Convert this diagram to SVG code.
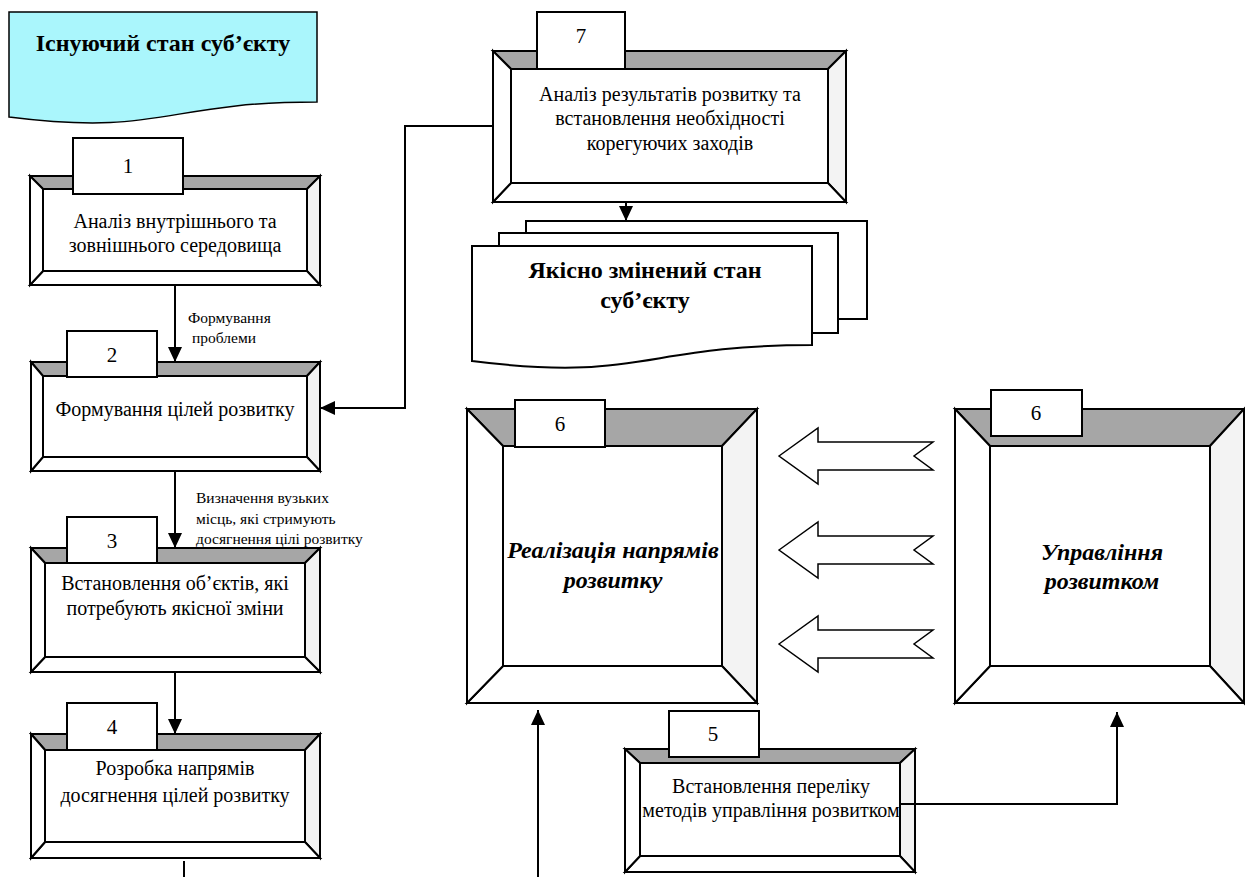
<svg xmlns="http://www.w3.org/2000/svg" width="1245" height="877" viewBox="0 0 1245 877">
<style>
text{font-family:"Liberation Serif","Times New Roman",serif;fill:#000;text-anchor:middle}
.b{stroke:#000;stroke-width:2;stroke-linejoin:miter}
.tp{fill:#a6a6a6}
.rt{fill:#f3f3f3}
.wh{fill:#fff}
.in{fill:#fff;stroke:#000;stroke-width:2}
.tab{fill:#fff;stroke:#000;stroke-width:2}
.t{font-size:20px}
.n{font-size:21px}
.s{font-size:15.5px;text-anchor:start}
.bd{font-size:24px;font-weight:bold}
.bi{font-size:24px;font-weight:bold;font-style:italic}
.c{fill:none;stroke:#000;stroke-width:2}
.ba{fill:#fff;stroke:#000;stroke-width:1.5}
</style>
<defs>
<marker id="ah" markerUnits="userSpaceOnUse" viewBox="0 0 15 14" markerWidth="15" markerHeight="14" refX="15" refY="7" orient="auto">
<path d="M0,0 L15,7 L0,14 z" fill="#000"/>
</marker>
</defs>

<g id="start">
<path d="M9,12 H317 V102 C163,102 163,136.5 9,117 Z" fill="#aaf6fc" stroke="#000" stroke-width="1.5"/>
<text class="bd" x="163" y="51">Існуючий стан суб’єкту</text>
</g>

<g id="node1">
<polygon class="b tp" points="30,176 320,176 307,189 43,189"/>
<polygon class="b rt" points="320,176 320,285 307,271 307,189"/>
<polygon class="b wh" points="30,285 320,285 307,271 43,271"/>
<polygon class="b wh" points="30,176 43,189 43,271 30,285"/>
<rect class="in" x="43" y="189" width="264" height="82"/>
<rect class="tab" x="73" y="138" width="110" height="56"/>
<text class="n" x="128" y="173">1</text>
<text class="t" x="175" y="228">Аналіз внутрішнього та</text>
<text class="t" x="175" y="252">зовнішнього середовища</text>
</g>

<g id="node2">
<polygon class="b tp" points="31,362 320,362 307,376 43,376"/>
<polygon class="b rt" points="320,362 320,471 307,457 307,376"/>
<polygon class="b wh" points="31,471 320,471 307,457 43,457"/>
<polygon class="b wh" points="31,362 43,376 43,457 31,471"/>
<rect class="in" x="43" y="376" width="264" height="81"/>
<rect class="tab" x="67" y="331" width="90" height="46"/>
<text class="n" x="112" y="362">2</text>
<text class="t" x="175" y="416">Формування цілей розвитку</text>
</g>

<g id="node3">
<polygon class="b tp" points="31,548 320,548 305,563 45,563"/>
<polygon class="b rt" points="320,548 320,672 305,657 305,563"/>
<polygon class="b wh" points="31,672 320,672 305,657 45,657"/>
<polygon class="b wh" points="31,548 45,563 45,657 31,672"/>
<rect class="in" x="45" y="563" width="260" height="94"/>
<rect class="tab" x="67" y="517" width="90" height="46"/>
<text class="n" x="112" y="548">3</text>
<text class="t" x="175" y="590">Встановлення об’єктів, які</text>
<text class="t" x="175" y="615">потребують якісної зміни</text>
</g>

<g id="node4">
<polygon class="b tp" points="31,734 320,734 305,750 45,750"/>
<polygon class="b rt" points="320,734 320,858 305,842 305,750"/>
<polygon class="b wh" points="31,858 320,858 305,842 45,842"/>
<polygon class="b wh" points="31,734 45,750 45,842 31,858"/>
<rect class="in" x="45" y="750" width="260" height="92"/>
<rect class="tab" x="67" y="703" width="90" height="47"/>
<text class="n" x="112" y="734">4</text>
<text class="t" x="175" y="775">Розробка напрямів</text>
<text class="t" x="175" y="802">досягнення цілей розвитку</text>
</g>

<g id="node7">
<polygon class="b tp" points="493,51 846,51 828,69 511,69"/>
<polygon class="b rt" points="846,51 846,202 828,183 828,69"/>
<polygon class="b wh" points="493,202 846,202 828,183 511,183"/>
<polygon class="b wh" points="493,51 511,69 511,183 493,202"/>
<rect class="in" x="511" y="69" width="317" height="114"/>
<rect class="tab" x="537" y="12" width="88" height="57"/>
<text class="n" x="581" y="43">7</text>
<text class="t" x="670" y="101">Аналіз результатів розвитку та</text>
<text class="t" x="670" y="125">встановлення необхідності</text>
<text class="t" x="670" y="150">корегуючих заходів</text>
</g>

<g id="result">
<path d="M526,221 H867 V319 H838 V233 H526 Z" fill="#fff" stroke="#000" stroke-width="2"/>
<path d="M499,233 H838 V333 H812 V246 H499 Z" fill="#fff" stroke="#000" stroke-width="2"/>
<path d="M472,246 H812 V345 C642,345 642,382.6 472,361 Z" fill="#fff" stroke="#000" stroke-width="2"/>
<text class="bd" x="645" y="278">Якісно змінений стан</text>
<text class="bd" x="645" y="308">суб’єкту</text>
</g>

<g id="node6a">
<polygon class="b tp" points="467,409 757,409 722,446 503,446"/>
<polygon class="b rt" points="757,409 757,703 722,666 722,446"/>
<polygon class="b wh" points="467,703 757,703 722,666 503,666"/>
<polygon class="b wh" points="467,409 503,446 503,666 467,703"/>
<rect class="in" x="503" y="446" width="219" height="220"/>
<rect class="tab" x="515" y="400" width="90" height="47"/>
<text class="n" x="560" y="431">6</text>
<text class="bi" x="613" y="558">Реалізація напрямів</text>
<text class="bi" x="613" y="588">розвитку</text>
</g>

<g id="node6b">
<polygon class="b tp" points="955,409 1244,409 1210,446 990,446"/>
<polygon class="b rt" points="1244,409 1244,703 1210,666 1210,446"/>
<polygon class="b wh" points="955,703 1244,703 1210,666 990,666"/>
<polygon class="b wh" points="955,409 990,446 990,666 955,703"/>
<rect class="in" x="990" y="446" width="220" height="220"/>
<rect class="tab" x="991" y="390" width="91" height="46"/>
<text class="n" x="1036" y="420">6</text>
<text class="bi" x="1102" y="560">Управління</text>
<text class="bi" x="1102" y="589">розвитком</text>
</g>

<g id="node5">
<polygon class="b tp" points="625,749 915,749 900,763 640,763"/>
<polygon class="b rt" points="915,749 915,872 900,856 900,763"/>
<polygon class="b wh" points="625,872 915,872 900,856 640,856"/>
<polygon class="b wh" points="625,749 640,763 640,856 625,872"/>
<rect class="in" x="640" y="763" width="260" height="93"/>
<rect class="tab" x="669" y="711" width="90" height="46"/>
<text class="n" x="713" y="741">5</text>
<text class="t" x="771" y="793">Встановлення переліку</text>
<text class="t" x="771" y="817">методів управління розвитком</text>
</g>

<g id="connectors">
<line class="c" x1="175" y1="285" x2="175" y2="362" marker-end="url(#ah)"/>
<line class="c" x1="175" y1="471" x2="175" y2="548" marker-end="url(#ah)"/>
<line class="c" x1="175" y1="672" x2="175" y2="734" marker-end="url(#ah)"/>
<line class="c" x1="184" y1="861" x2="184" y2="877"/>
<polyline class="c" points="493,126 405,126 405,408 320,408" marker-end="url(#ah)"/>
<line class="c" x1="626" y1="202" x2="626" y2="221" marker-end="url(#ah)"/>
<polyline class="c" points="900,804 1117,804 1117,712" marker-end="url(#ah)"/>
<line class="c" x1="538" y1="877" x2="538" y2="710" marker-end="url(#ah)"/>
<polygon class="ba" points="779,456 818,428 818,442 933,442 914,456 933,470 818,470 818,484"/>
<polygon class="ba" points="779,550 818,522 818,536 933,536 914,550 933,564 818,564 818,578"/>
<polygon class="ba" points="779,644 818,616 818,630 933,630 914,644 933,658 818,658 818,672"/>
<text class="s" x="188" y="323">Формування</text>
<text class="s" x="192" y="343">проблеми</text>
<text class="s" x="196" y="503">Визначення вузьких</text>
<text class="s" x="196" y="524">місць, які стримують</text>
<text class="s" x="196" y="544">досягнення  цілі розвитку</text>
</g>
</svg>
